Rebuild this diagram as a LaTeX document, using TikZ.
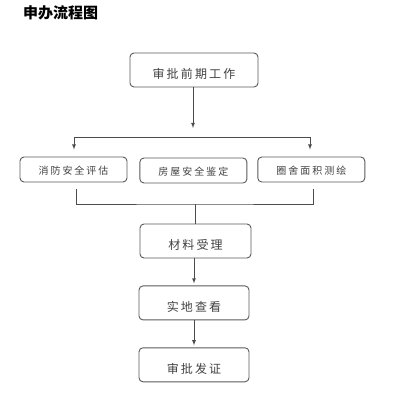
\documentclass[tikz,border=0pt]{standalone}
\usepackage{fontspec}
\setmainfont{Noto Sans CJK SC}
\newfontfamily\cjk{Noto Sans CJK SC}
\usetikzlibrary{shapes.geometric, positioning, arrows}

\tikzset{
  flowbox/.style={draw=black!65, rounded corners=4pt, line width=0.9pt,
    minimum width=110pt, minimum height=34pt, inner sep=0pt,
    text height=17pt, text depth=0pt,
    text=black!75, font=\cjk\fontsize{12}{12}\selectfont\addfontfeature{LetterSpace=18}},
  smallbox/.style={flowbox, minimum width=107pt, minimum height=25pt,
    text height=10pt, text depth=1pt,
    font=\cjk\fontsize{10}{10}\selectfont\addfontfeature{LetterSpace=20}},
  link/.style={draw=black!70, line width=0.8pt},
}

\begin{document}
\begin{tikzpicture}[x=1pt, y=-1pt, >=latex]
  \useasboundingbox (0,0) rectangle (400,400);

  % Title
  \node [anchor=west, inner sep=0pt, font=\cjk\bfseries\fontsize{15}{15}\selectfont] (Title)
  at (23,13) {申办流程图};

  % Approval preparation
  \node [flowbox, minimum width=128pt] (Prep) at (194,70) {审批前期工作};%
  \coordinate (hub) at (193,128);%
  \coordinate (forkL) at (74,137);%
  \coordinate (forkR) at (310,137);%

  % Three checks
  \node [smallbox] (Fire) at (73.5,169.5) {消防安全评估};%
  \node [smallbox, right=12pt of Fire, yshift=-1pt] (House) {房屋安全鉴定};%
  \node [smallbox, right=10pt of House, yshift=1pt] (Survey) {圈舍面积测绘};%

  % Collection
  \coordinate (join) at (195,204);%
  \node [flowbox, minimum width=111pt] (Accept) at (195.5,241) {材料受理};%
  \node [flowbox, below=27pt of Accept, xshift=-1.5pt] (Visit) {实地查看};%
  \node [flowbox, below=27pt of Visit] (Issue) {审批发证};%

  % arrows
  \draw [link, ->] ([xshift=-1pt]Prep.south) -- (hub);%
  \draw [link] (forkL) -- (forkR);%
  \draw [link, ->, shorten >=7pt] (forkL) -- (forkL |- Fire.north);%
  \draw [link, ->, shorten >=7pt] (forkR) -- (forkR |- Survey.north);%
  \draw [link] ([yshift=-7pt, xshift=3pt]Fire.south) |- (join) -| ([yshift=-7pt,
  xshift=2.5pt]Survey.south);%
  \draw [link] (join) -- (join |- Accept.north);%
  \draw [link, ->, shorten >=2pt] (Accept.south -| Visit.south) -- (Visit.north);%
  \draw [link, ->, shorten >=2pt] (Visit) -- (Issue);%
\end{tikzpicture}
\end{document}
